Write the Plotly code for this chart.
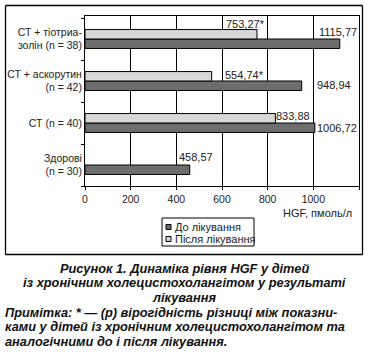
import plotly.graph_objects as go

# ---- data ----
categories = ["Здорові<br>(n = 30)", "СТ (n = 40)", "СТ + аскорутин<br>(n = 42)", "СТ + тіотриа-<br>золін (n = 38)"]
before_vals = [458.57, 1006.72, 948.94, 1115.77]
after_vals = [None, 833.88, 554.74, 753.27]
before_labels = ["458,57", "1006,72", "948,94", "1115,77"]
after_labels = [None, "833,88", "554,74*", "753,27*"]
series_names = ["До лікування", "Після лікування"]
x_ticks = [0, 200, 400, 600, 800, 1000, 1200]
x_title = "HGF, пмоль/л"
caption_center = ["Рисунок 1. Динаміка рівня HGF у дітей",
                  "із хронічним холецистохолангітом у результаті",
                  "лікування"]
caption_left = ["Примітка: * — (р) вірогідність різниці між показни-",
                "ками у дітей із хронічним холецистохолангітом та",
                "аналогічними до і після лікування."]

# ---- style ----
W, H = 368, 358
L, R, T, B = 85, 359, 16, 186   # plot area in window pixels
DARK = "#6e6e6e"
LIGHT = "#d8d8d8"
TXT = "#222222"
FONT = "Liberation Sans, Arial, sans-serif"

def px(x):
    return (x - L) / (R - L)

def py(y):
    return (B - y) / (B - T)

# label offsets (xshift, yshift) in pixels relative to bar end / category centre
before_off = [(6, 8), (22, -5), (32, -4), (-2, 7)]
after_off = [None, (18, 7.5), (33, 6), (-12, 15)]

fig = go.Figure()
fig.add_trace(go.Bar(y=categories, x=before_vals, orientation="h", name=series_names[0],
                     marker=dict(color=DARK, line=dict(color="black", width=1)), showlegend=False))
fig.add_trace(go.Bar(y=categories, x=after_vals, orientation="h", name=series_names[1],
                     marker=dict(color=LIGHT, line=dict(color="black", width=1)), showlegend=False))

ann = []
for i, c in enumerate(categories):
    xs, ys = before_off[i]
    ann.append(dict(x=before_vals[i], y=c, xref="x", yref="y", text=before_labels[i],
                    showarrow=False, xanchor="center", yanchor="middle", xshift=xs, yshift=ys,
                    font=dict(size=11, color=TXT, family=FONT)))
    if after_vals[i] is not None:
        xs, ys = after_off[i]
        ann.append(dict(x=after_vals[i], y=c, xref="x", yref="y", text=after_labels[i],
                        showarrow=False, xanchor="center", yanchor="middle", xshift=xs, yshift=ys,
                        font=dict(size=11, color=TXT, family=FONT)))

# axis title
ann.append(dict(x=px(354), y=py(213), xref="paper", yref="paper", text=x_title, showarrow=False,
                xanchor="right", yanchor="middle", font=dict(size=11, color=TXT, family=FONT)))

# outer frame (four sides) and custom legend
fx0, fx1, fy0, fy1 = px(5.5), px(362.5), py(254.5), py(5.5)
frame_line = dict(color="black", width=1.3)
shapes = [
    dict(type="line", xref="paper", yref="paper", x0=fx0, x1=fx1, y0=fy1, y1=fy1, line=frame_line),
    dict(type="line", xref="paper", yref="paper", x0=fx0, x1=fx1, y0=fy0, y1=fy0, line=frame_line),
    dict(type="line", xref="paper", yref="paper", x0=fx0, x1=fx0, y0=fy0, y1=fy1, line=frame_line),
    dict(type="line", xref="paper", yref="paper", x0=fx1, x1=fx1, y0=fy0, y1=fy1, line=frame_line),
    dict(type="rect", xref="paper", yref="paper", x0=px(162), x1=px(254), y0=py(246), y1=py(218),
         line=dict(color="black", width=1), fillcolor="white"),
]
for k, (col, yc) in enumerate([(DARK, 227), (LIGHT, 239)]):
    shapes.append(dict(type="rect", xref="paper", yref="paper", x0=px(166), x1=px(171),
                       y0=py(yc + 2.5), y1=py(yc - 2.5), line=dict(color="black", width=1), fillcolor=col))
    ann.append(dict(x=px(173), y=py(yc), xref="paper", yref="paper", text=series_names[k],
                    showarrow=False, xanchor="left", yanchor="middle",
                    font=dict(size=11, color=TXT, family=FONT)))

# caption
cap_font = dict(size=12.8, color="#111111", family="Liberation Sans, Arial, sans-serif")
for j, line in enumerate(caption_center):
    ann.append(dict(x=px(184), y=py(268 + j * 14.8), xref="paper", yref="paper",
                    text="<b><i>" + line + "</i></b>", showarrow=False,
                    xanchor="center", yanchor="middle", font=cap_font))
for j, line in enumerate(caption_left):
    ann.append(dict(x=px(3), y=py(312 + j * 14.8), xref="paper", yref="paper",
                    text="<b><i>" + line + "</i></b>", showarrow=False,
                    xanchor="left", yanchor="middle", font=cap_font))

fig.update_layout(
    width=W, height=H,
    margin=dict(l=L, r=W - R, t=T, b=H - B, pad=0, autoexpand=False),
    paper_bgcolor="white", plot_bgcolor="white",
    barmode="group", bargap=0.55, bargroupgap=0,
    showlegend=False,
    font=dict(family=FONT, size=11, color=TXT),
    annotations=ann, shapes=shapes,
)
fig.update_xaxes(range=[0, 1200], tickvals=x_ticks, ticktext=[str(v) for v in x_ticks],
                 showgrid=True, gridcolor="black", gridwidth=1, automargin=False,
                 showline=True, linecolor="black", linewidth=1, mirror=True,
                 ticks="outside", ticklen=3, tickcolor="black", zeroline=False,
                 tickfont=dict(size=10.5, color=TXT))
fig.update_yaxes(showline=True, linecolor="black", linewidth=1, mirror=True, automargin=False,
                 ticks="outside", ticklen=3, tickcolor="black", tickson="boundaries",
                 showgrid=False, tickfont=dict(size=10.5, color=TXT), ticklabelstandoff=0)

fig.write_html("out.html", config={"displayModeBar": False},
               post_script="document.body.style.margin='0';")
